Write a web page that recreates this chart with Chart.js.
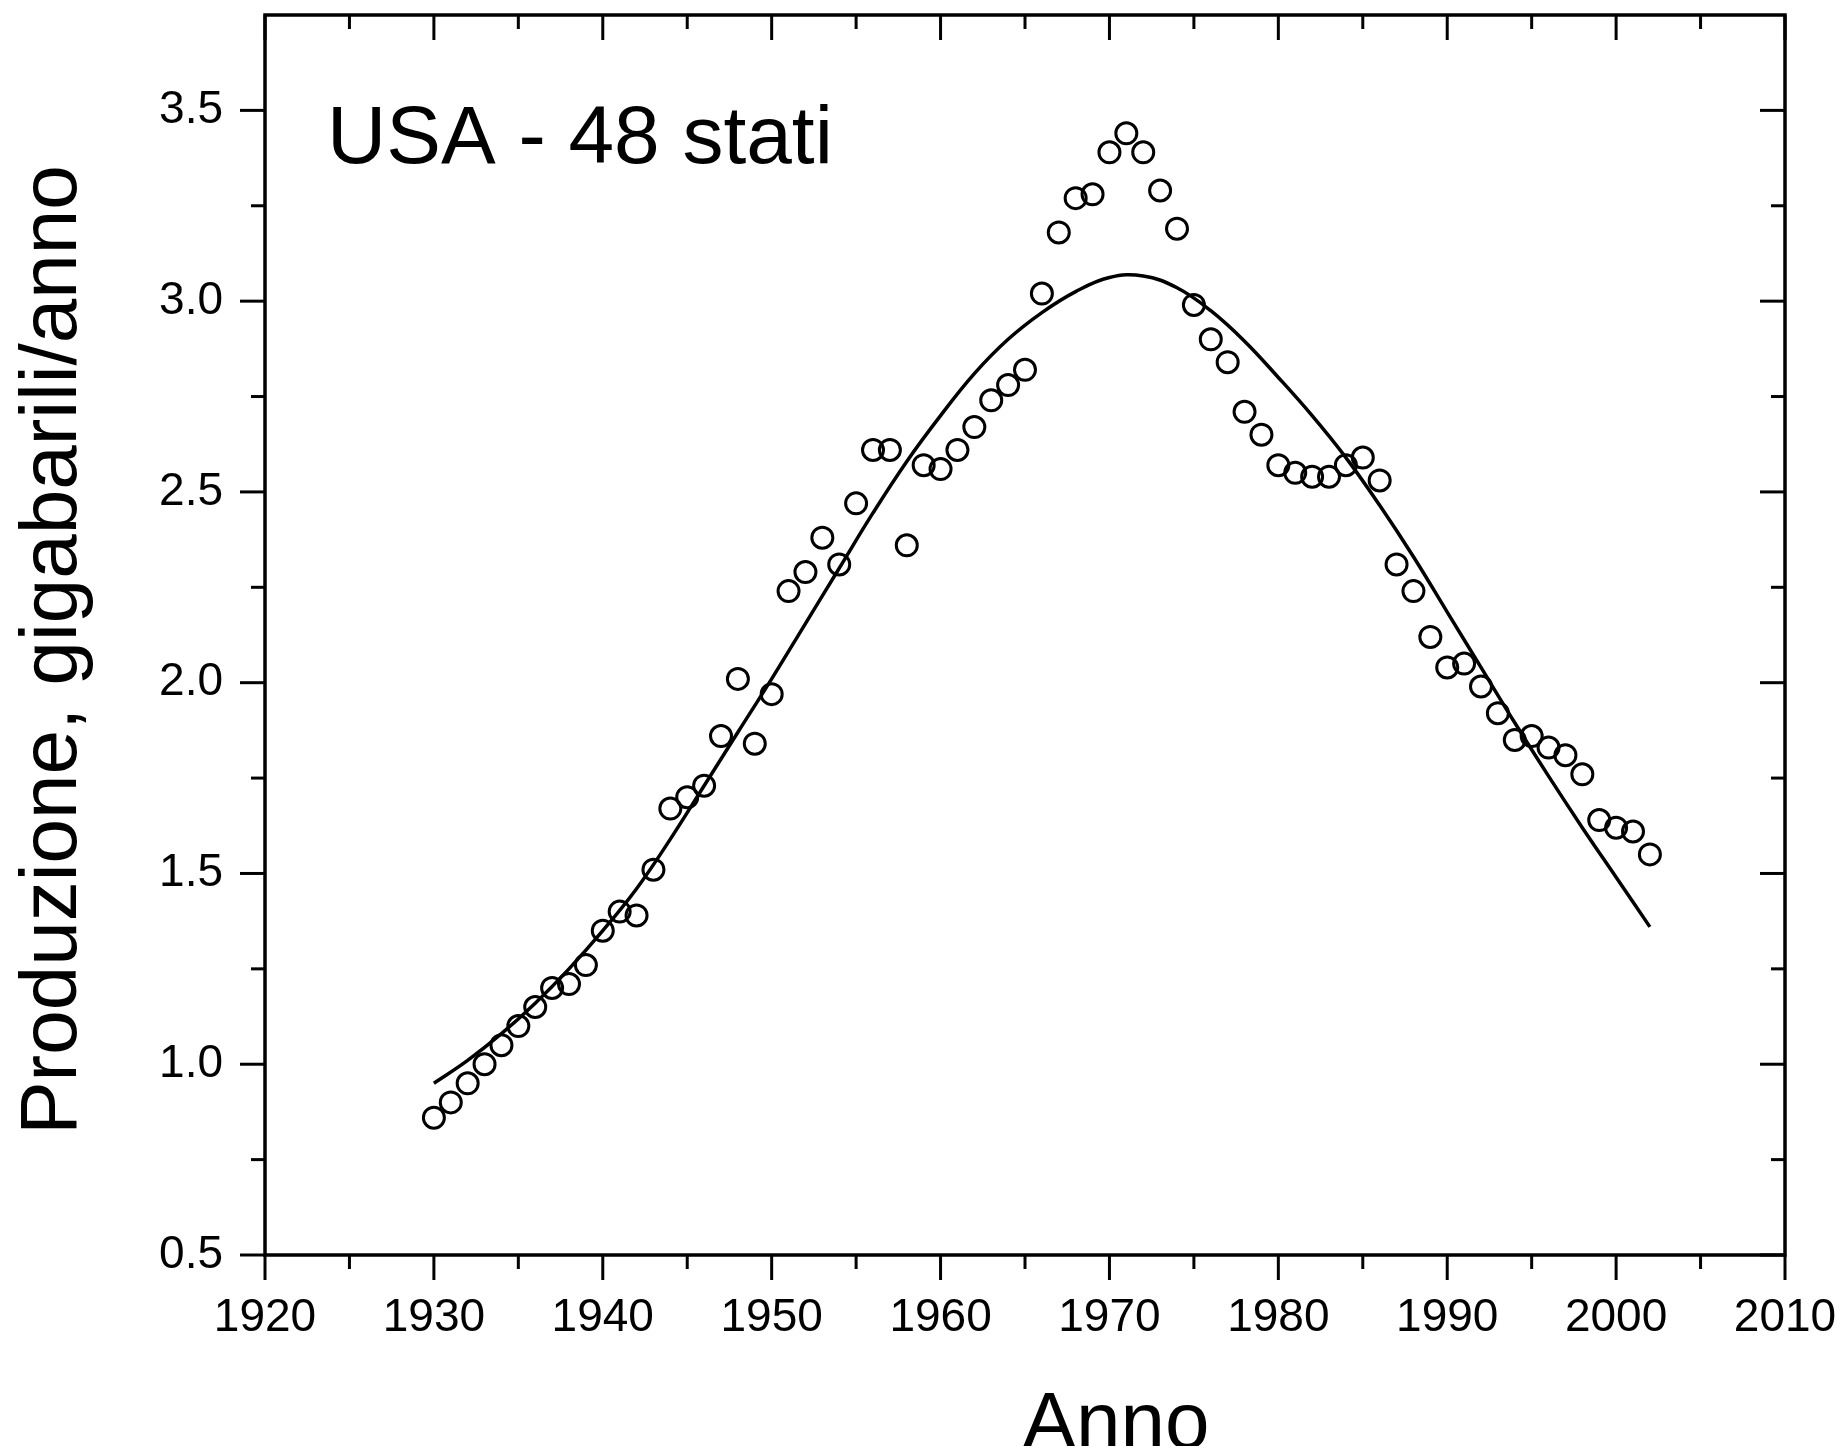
<!DOCTYPE html>
<html>
<head>
<meta charset="utf-8">
<title>USA - 48 stati</title>
<script src="https://cdn.jsdelivr.net/npm/chart.js@4.4.1/dist/chart.umd.min.js"></script>
<style>
  html, body { margin: 0; padding: 0; background: #fff; }
  #grafico { display: block; }
</style>
</head>
<body>
<canvas id="grafico" width="1845" height="1446"></canvas>
<script>
// Produzione annua (punti)
var anni = [1930, 1931, 1932, 1933, 1934, 1935, 1936, 1937, 1938, 1939,
  1940, 1941, 1942, 1943, 1944, 1945, 1946, 1947, 1948, 1949,
  1950, 1951, 1952, 1953, 1954, 1955, 1956, 1957, 1958, 1959,
  1960, 1961, 1962, 1963, 1964, 1965, 1966, 1967, 1968, 1969,
  1970, 1971, 1972, 1973, 1974, 1975, 1976, 1977, 1978, 1979,
  1980, 1981, 1982, 1983, 1984, 1985, 1986, 1987, 1988, 1989,
  1990, 1991, 1992, 1993, 1994, 1995, 1996, 1997, 1998, 1999,
  2000, 2001, 2002];
var produzione = [0.86, 0.90, 0.95, 1.00, 1.05, 1.10, 1.15, 1.20, 1.21, 1.26,
  1.35, 1.40, 1.39, 1.51, 1.67, 1.70, 1.73, 1.86, 2.01, 1.84,
  1.97, 2.24, 2.29, 2.38, 2.31, 2.47, 2.61, 2.61, 2.36, 2.57,
  2.56, 2.61, 2.67, 2.74, 2.78, 2.82, 3.02, 3.18, 3.27, 3.28,
  3.39, 3.44, 3.39, 3.29, 3.19, 2.99, 2.90, 2.84, 2.71, 2.65,
  2.57, 2.55, 2.54, 2.54, 2.57, 2.59, 2.53, 2.31, 2.24, 2.12,
  2.04, 2.05, 1.99, 1.92, 1.85, 1.86, 1.83, 1.81, 1.76, 1.64,
  1.62, 1.61, 1.55];

// Curva di fit
var anniFit = [1930, 1932, 1934, 1936, 1938, 1940, 1942, 1944, 1946, 1948,
  1950, 1952, 1954, 1956, 1958, 1960, 1962, 1964, 1966, 1968,
  1970, 1972, 1974, 1976, 1978, 1980, 1982, 1984, 1986,
  1988, 1990, 1992, 1994, 1996, 1998, 2000, 2002];
var valoriFit = [0.95, 1.01, 1.08, 1.16, 1.25, 1.35, 1.46, 1.59, 1.73, 1.87,
  2.01, 2.155, 2.30, 2.445, 2.58, 2.70, 2.81, 2.90, 2.97, 3.025,
  3.062, 3.066, 3.035, 2.975, 2.895, 2.80, 2.70, 2.59, 2.465,
  2.33, 2.185, 2.04, 1.895, 1.755, 1.62, 1.49, 1.36];

// Tacche degli assi
var tacchePrincX = [1920, 1930, 1940, 1950, 1960, 1970, 1980, 1990, 2000, 2010];
var taccheSecX = [1925, 1935, 1945, 1955, 1965, 1975, 1985, 1995, 2005];
var tacchePrincY = [0.5, 1.0, 1.5, 2.0, 2.5, 3.0, 3.5];
var taccheSecY = [0.75, 1.25, 1.75, 2.25, 2.75, 3.25];

var FONT = "'Liberation Sans', Arial, sans-serif";
var AREA = { left: 265, top: 15, right: 1785, bottom: 1255 };

var puntiDati = anni.map(function (a, i) { return { x: a, y: produzione[i] }; });
var puntiFit = anniFit.map(function (a, i) { return { x: a, y: valoriFit[i] }; });

function azzeraPadding(s) {
  s.paddingTop = 0;
  s.paddingBottom = 0;
  s.paddingLeft = 0;
  s.paddingRight = 0;
}

// Cornice, tacche e testi
var cornice = {
  id: "cornice",
  afterDraw: function (chart) {
    var ctx = chart.ctx;
    var a = chart.chartArea;
    var sx = chart.scales.x;
    var sy = chart.scales.y;
    var lungP = 25, lungS = 14;

    ctx.save();
    ctx.strokeStyle = "#000";
    ctx.lineWidth = 3.5;
    ctx.strokeRect(a.left, a.top, a.right - a.left, a.bottom - a.top);

    ctx.lineWidth = 3;
    function tacca(x1, y1, x2, y2) {
      ctx.beginPath();
      ctx.moveTo(x1, y1);
      ctx.lineTo(x2, y2);
      ctx.stroke();
    }
    tacchePrincX.forEach(function (v) {
      var x = sx.getPixelForValue(v);
      tacca(x, a.bottom, x, a.bottom + lungP);
      tacca(x, a.top, x, a.top + lungP);
    });
    taccheSecX.forEach(function (v) {
      var x = sx.getPixelForValue(v);
      tacca(x, a.bottom, x, a.bottom + lungS);
      tacca(x, a.top, x, a.top + lungS);
    });
    tacchePrincY.forEach(function (v) {
      var y = sy.getPixelForValue(v);
      tacca(a.left, y, a.left - lungP, y);
      tacca(a.right, y, a.right - lungP, y);
    });
    taccheSecY.forEach(function (v) {
      var y = sy.getPixelForValue(v);
      tacca(a.left, y, a.left - lungS, y);
      tacca(a.right, y, a.right - lungS, y);
    });

    ctx.fillStyle = "#000";
    ctx.font = "82px " + FONT;
    ctx.textAlign = "left";
    ctx.textBaseline = "alphabetic";
    ctx.fillText("USA - 48 stati", 327, 163);

    ctx.font = "80px " + FONT;
    ctx.textAlign = "center";
    ctx.fillText("Anno", 1116, 1448);

    ctx.translate(54, 650);
    ctx.rotate(-Math.PI / 2);
    ctx.textBaseline = "middle";
    ctx.fillText("Produzione, gigabarili/anno", 0, 0);
    ctx.restore();
  }
};

var grafico = new Chart(document.getElementById("grafico"), {
  type: "scatter",
  data: {
    datasets: [
      {
        label: "Produzione",
        data: puntiDati,
        showLine: false,
        pointStyle: "circle",
        pointRadius: 10.5,
        pointBorderWidth: 3,
        pointBorderColor: "#000",
        pointBackgroundColor: "rgba(255,255,255,0)",
        order: 2
      },
      {
        label: "Fit",
        data: puntiFit,
        showLine: true,
        borderColor: "#000",
        borderWidth: 3.5,
        pointRadius: 0,
        tension: 0.4,
        fill: false,
        order: 1
      }
    ]
  },
  options: {
    responsive: false,
    devicePixelRatio: 1,
    animation: false,
    layout: { padding: { top: AREA.top, right: 1845 - AREA.right, left: 0, bottom: 0 } },
    plugins: {
      legend: { display: false },
      tooltip: { enabled: false }
    },
    scales: {
      x: {
        type: "linear",
        min: 1920,
        max: 2010,
        grid: { display: false, drawTicks: false },
        border: { display: false },
        ticks: {
          stepSize: 10,
          padding: 36,
          color: "#000",
          font: { family: FONT, size: 46 },
          maxRotation: 0,
          callback: function (v) { return String(v); }
        },
        afterFit: function (s) { s.height = 1446 - AREA.bottom; azzeraPadding(s); }
      },
      y: {
        type: "linear",
        min: 0.5,
        max: 3.75,
        grid: { display: false, drawTicks: false },
        border: { display: false },
        ticks: {
          stepSize: 0.5,
          includeBounds: false,
          padding: 42,
          color: "#000",
          font: { family: FONT, size: 46 },
          callback: function (v) { return v.toFixed(1); }
        },
        afterFit: function (s) { s.width = AREA.left; azzeraPadding(s); }
      }
    }
  },
  plugins: [cornice]
});

// correzione dell'area del grafico, se il layout la sposta
for (var k = 0; k < 2; k++) {
  var ca = grafico.chartArea;
  var pad = grafico.options.layout.padding;
  var dt = AREA.top - ca.top;
  var dr = ca.right - AREA.right;
  if (Math.abs(dt) < 0.5 && Math.abs(dr) < 0.5) break;
  pad.top += dt;
  pad.right += dr;
  grafico.update();
}
</script>
</body>
</html>
